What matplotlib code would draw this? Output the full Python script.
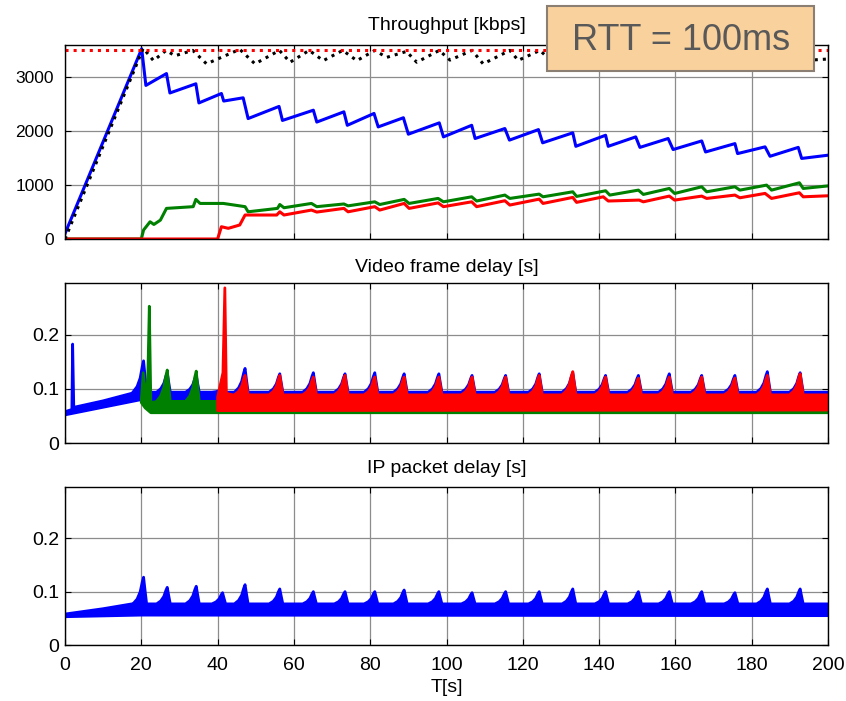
import numpy as np
import matplotlib
matplotlib.use('Agg')
import matplotlib.pyplot as plt
from matplotlib.patches import Rectangle

plt.rcParams['font.family'] = ['Liberation Sans', 'DejaVu Sans']

# ---- throughput [kbps] ----
cap_kbps = 3500

tot_t = [0, 20.5, 23.2, 26.5, 28.8, 33.5, 37.1, 45.8, 49.8, 56.2, 59.0, 64.0, 67.7, 72.8, 76.5,
         81.2, 84.3, 89.5, 92.2, 98.1, 100.9, 106.7, 109.6, 116.6, 118.8, 124.5, 127.5, 133.1,
         136.0, 141.7, 144.5, 150.3, 153.0, 158.4, 161.0, 166.9, 169.5, 175.6, 178.5, 184.1,
         187.0, 192.7, 195.5, 200]
tot_v = [0, 3540, 3310, 3500, 3400, 3500, 3250, 3520, 3250, 3500, 3280, 3500, 3310, 3500, 3310,
         3500, 3370, 3480, 3280, 3500, 3320, 3500, 3250, 3500, 3315, 3500, 3300, 3500,
         3300, 3500, 3300, 3500, 3300, 3500, 3300, 3500, 3300, 3500, 3300, 3500,
         3300, 3500, 3320, 3340]

blue_tp_t = [0, 20.1, 21.2, 26.6, 27.5, 34.3, 35.1, 41.0, 41.6, 46.7, 48.0, 56.1, 57.0, 65.1,
             66.0, 73.1, 74.0, 81.0, 82.1, 88.7, 90.0, 98.1, 99.2, 106.6, 107.5, 115.3, 116.5,
             124.1, 125.2, 133.1, 133.9, 141.7, 142.4, 149.6, 150.7, 158.1, 159.4, 166.9, 167.9,
             175.6, 176.3, 183.5, 184.8, 192.2, 193.1, 200]
blue_tp_v = [100, 3530, 2850, 3070, 2710, 2880, 2525, 2700, 2560, 2620, 2235, 2460, 2200, 2390,
             2170, 2360, 2110, 2330, 2080, 2250, 1945, 2155, 1895, 2110, 1865, 2050, 1835,
             2030, 1785, 1970, 1720, 1925, 1720, 1895, 1700, 1865, 1660, 1820, 1615,
             1770, 1585, 1710, 1535, 1700, 1495, 1555]

green_tp_t = [0, 20.0, 20.6, 22.3, 23.3, 25.0, 26.6, 33.6, 34.3, 35.4, 41.5, 47.2, 48.0, 55.7,
              56.3, 57.4, 64.6, 66.0, 73.1, 74.2, 81.2, 82.5, 88.9, 90.2, 97.8, 99.2, 106.6,
              107.9, 115.3, 116.6, 124.3, 125.3, 133.1, 134.1, 141.7, 142.8, 150.3, 151.6, 158.4,
              159.8, 166.9, 168.2, 175.6, 176.9, 183.9, 185.2, 192.5, 193.5, 200]
green_tp_v = [0, 0, 167, 320, 270, 350, 568, 600, 735, 660, 660, 600, 505, 568,
              640, 580, 660, 600, 650, 615, 690, 640, 735, 660, 753, 690, 783,
              705, 815, 753, 833, 783, 876, 790, 895, 815, 907, 827, 938,
              845, 969, 876, 969, 907, 1000, 907, 1043, 938, 985]

red_tp_t = [0, 40.0, 41.0, 42.8, 45.8, 47.2, 55.5, 56.3, 57.4, 64.6, 66.0, 73.1, 74.2, 81.2,
            82.5, 88.9, 90.2, 97.8, 99.2, 106.6, 107.9, 115.3, 116.6, 124.3, 125.3, 133.1, 134.1,
            141.1, 142.4, 150.5, 151.6, 158.4, 159.8, 166.9, 168.2, 175.6, 176.9, 183.5, 185.2,
            192.5, 193.5, 200]
red_tp_v = [0, 0, 228, 198, 260, 445, 445, 505, 445, 537, 500, 568, 505, 600,
            537, 660, 568, 670, 600, 690, 600, 710, 630, 740, 660, 772, 680,
            783, 705, 722, 690, 796, 722, 796, 753, 815, 765, 846, 753,
            858, 783, 802]

# ---- delay peaks (same events in every delay trace) ----
peak_t = [47.2, 56.3, 65.1, 73.4, 81.2, 88.9, 98.0, 106.7, 115.5, 124.3, 133.1, 141.7, 150.3,
          158.4, 166.9, 175.6, 184.1, 192.7]

# video frame delay [s]
vd_blue_lead_t = [0, 1.8, 2.0, 2.3, 10, 17.5]
vd_blue_lead_v = [0.058, 0.062, 0.183, 0.066, 0.078, 0.092]
vd_blue_early_t = [20.6, 26.8, 34.4, 41.3]
vd_blue_early_v = [0.152, 0.130, 0.125, 0.100]
vd_blue_pk = [0.138, 0.128, 0.130, 0.128, 0.130, 0.128, 0.128, 0.125, 0.125, 0.128, 0.130,
              0.125, 0.125, 0.128, 0.125, 0.125, 0.132, 0.130]
vd_blue_top = 0.094
vd_blue_lo_t = [0, 19.8, 20.2, 200]
vd_blue_lo_v = [0.052, 0.080, 0.075, 0.075]

vd_green_lead_t = [20.0, 20.5, 21.2, 21.7, 22.1, 22.5, 23.5]
vd_green_lead_v = [0.080, 0.130, 0.085, 0.120, 0.253, 0.075, 0.076]
vd_green_early_t = [26.8, 34.4]
vd_green_early_v = [0.135, 0.133]
vd_green_pk = [0.120, 0.118, 0.118, 0.120, 0.118, 0.120, 0.118, 0.118, 0.120, 0.120, 0.125,
               0.118, 0.120, 0.120, 0.120, 0.118, 0.122, 0.125]
vd_green_top = 0.077
vd_green_lo_t = [20.0, 21.0, 22.5, 200]
vd_green_lo_v = [0.075, 0.065, 0.056, 0.056]

vd_red_lead_t = [40.0, 41.4, 41.9, 42.3, 44.0]
vd_red_lead_v = [0.085, 0.130, 0.287, 0.092, 0.089]
vd_red_pk = [0.125, 0.125, 0.122, 0.125, 0.122, 0.122, 0.122, 0.122, 0.122, 0.125, 0.132,
             0.122, 0.120, 0.122, 0.122, 0.120, 0.125, 0.128]
vd_red_top = 0.089
vd_red_lo_t = [40.0, 200]
vd_red_lo_v = [0.060, 0.061]

# IP packet delay [s]
ip_lead_t = [0, 10, 17.5]
ip_lead_v = [0.058, 0.068, 0.077]
ip_early_t = [20.6, 26.8, 34.4, 41.3]
ip_early_v = [0.127, 0.108, 0.110, 0.098]
ip_pk = [0.113, 0.105, 0.100, 0.100, 0.100, 0.103, 0.100, 0.098, 0.100, 0.100, 0.105,
         0.100, 0.100, 0.100, 0.100, 0.098, 0.105, 0.105]
ip_top = 0.077
ip_lo_t = [0, 20, 200]
ip_lo_v = [0.053, 0.056, 0.055]

x_ticks = list(range(0, 201, 20))

BLUE, GREEN, RED = '#0000ff', '#008000', '#ff0000'
W, H = 846, 701
# outline of one delay spike: (time offset, fraction of height above band)
PEAK_SHAPE = [(-2.8, 0.0), (-1.7, 0.18), (-0.9, 0.45), (-0.35, 0.82), (0.0, 1.0),
              (0.35, 0.55), (0.8, 0.0)]


def ridge(lead_t, lead_v, top, pk_t, pk_v):
    xs, ys = list(lead_t), list(lead_v)
    for t, v in zip(pk_t, pk_v):
        for dt, f in PEAK_SHAPE:
            xs.append(t + dt)
            ys.append(top + f * (v - top))
    xs.append(200)
    ys.append(top)
    return xs, ys


def band(ax, hi, lo_t, lo_v, color):
    xs = list(hi[0]) + list(lo_t)[::-1]
    ys = list(hi[1]) + list(lo_v)[::-1]
    ax.fill(xs, ys, color=color, lw=2, ec=color, joinstyle='round')


def style(ax, ylim, yticks):
    ax.set_xlim(0, 200)
    ax.set_ylim(*ylim)
    ax.set_xticks(x_ticks)
    ax.set_yticks(yticks)
    ax.grid(True, color='#8c8c8c', lw=0.9)
    ax.set_axisbelow(True)
    ax.tick_params(direction='in', top=True, right=True, length=4, labelsize=14)
    ax.tick_params(axis='x', pad=9)
    ax.tick_params(axis='y', pad=4)
    for s in ax.spines.values():
        s.set_linewidth(1.0)


fig = plt.figure(figsize=(W / 100, H / 100), dpi=100)
ax1 = fig.add_axes([65 / W, 1 - 239 / H, 763 / W, 194 / H])
ax2 = fig.add_axes([65 / W, 1 - 443 / H, 763 / W, 160 / H])
ax3 = fig.add_axes([65 / W, 1 - 645 / H, 763 / W, 158 / H])

ax1.plot(blue_tp_t, blue_tp_v, color=BLUE, lw=2.2)
ax1.plot(green_tp_t, green_tp_v, color=GREEN, lw=2.2)
ax1.plot(red_tp_t, red_tp_v, color=RED, lw=2.2)
ax1.plot(tot_t, tot_v, color='black', lw=2.2, ls=':')
ax1.axhline(cap_kbps, color=RED, lw=2.2, ls=':')
style(ax1, (0, 3600), [0, 1000, 2000, 3000])
ax1.tick_params(axis='y', labelsize=12.5, pad=8)
ax1.set_xticklabels([])
ax1.set_title('Throughput [kbps]', fontsize=14, pad=11)

band(ax2, ridge(vd_blue_lead_t, vd_blue_lead_v, vd_blue_top,
                vd_blue_early_t + peak_t, vd_blue_early_v + vd_blue_pk),
     vd_blue_lo_t, vd_blue_lo_v, BLUE)
band(ax2, ridge(vd_green_lead_t, vd_green_lead_v, vd_green_top,
                vd_green_early_t + peak_t, vd_green_early_v + vd_green_pk),
     vd_green_lo_t, vd_green_lo_v, GREEN)
band(ax2, ridge(vd_red_lead_t, vd_red_lead_v, vd_red_top, peak_t, vd_red_pk),
     vd_red_lo_t, vd_red_lo_v, RED)
style(ax2, (0, 0.296), [0, 0.1, 0.2])
ax2.set_yticklabels(['0', '0.1', '0.2'])
ax2.set_xticklabels([])
ax2.set_title('Video frame delay [s]', fontsize=14, pad=8)

band(ax3, ridge(ip_lead_t, ip_lead_v, ip_top, ip_early_t + peak_t, ip_early_v + ip_pk),
     ip_lo_t, ip_lo_v, BLUE)
style(ax3, (0, 0.296), [0, 0.1, 0.2])
ax3.set_yticklabels(['0', '0.1', '0.2'])
ax3.set_xlabel('T[s]', fontsize=14, labelpad=3)
ax3.set_title('IP packet delay [s]', fontsize=14, pad=10)

# RTT label box
fig.patches.append(Rectangle((547 / W, 1 - 71 / H), 267 / W, 65 / H, transform=fig.transFigure,
                             fc='#f9d19c', ec='#8a7f72', lw=1.5, zorder=10))
fig.text(681 / W, 1 - 40 / H, 'RTT = 100ms', fontsize=26, color='#595959',
         ha='center', va='center', zorder=11)

fig.savefig('out.png', dpi=100)
